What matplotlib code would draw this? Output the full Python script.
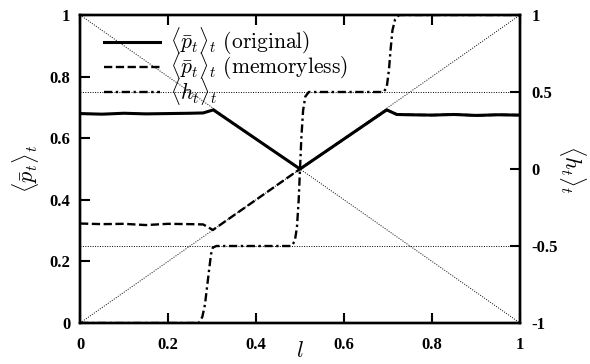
import matplotlib
matplotlib.use("Agg")
import matplotlib.pyplot as plt

plt.rcParams['font.family'] = ['Liberation Serif', 'DejaVu Serif']
plt.rcParams['mathtext.fontset'] = 'cm'

# <p>_t, original model
l_orig = [0, 0.05, 0.1, 0.15, 0.2, 0.25, 0.28, 0.303, 0.5, 0.697, 0.72, 0.75, 0.8, 0.85, 0.9, 0.95, 1.0]
p_orig = [0.680, 0.678, 0.681, 0.679, 0.680, 0.681, 0.682, 0.692, 0.5, 0.692, 0.677, 0.676, 0.675, 0.677, 0.674, 0.676, 0.675]

# <p>_t, memoryless model
l_mem = [0, 0.05, 0.1, 0.15, 0.2, 0.25, 0.28, 0.302, 0.5, 0.697, 0.72, 0.75, 0.8, 0.85, 0.9, 0.95, 1.0]
p_mem = [0.323, 0.321, 0.322, 0.318, 0.322, 0.321, 0.320, 0.302, 0.5, 0.692, 0.677, 0.676, 0.675, 0.677, 0.674, 0.676, 0.675]

# <h>_t (right axis)
l_h = [0, 0.27, 0.278, 0.284, 0.289, 0.294, 0.298, 0.302, 0.31, 0.48, 0.488, 0.493, 0.497, 0.5, 0.503, 0.507, 0.512, 0.52,
       0.69, 0.697, 0.702, 0.706, 0.71, 0.716, 0.725, 1.0]
h = [-1, -1, -0.96, -0.88, -0.76, -0.64, -0.55, -0.51, -0.5, -0.5, -0.47, -0.38, -0.2, 0.0, 0.2, 0.38, 0.47, 0.5,
     0.5, 0.53, 0.64, 0.78, 0.9, 0.97, 1.0, 1.0]

fig = plt.figure(figsize=(5.9, 3.64), dpi=100)
ax = fig.add_axes([0.1356, 0.1126, 0.7458, 0.8462])
ax2 = ax.twinx()

# reference guides
guide = dict(color='black', lw=0.7, ls=(0, (1, 1.5)))
ax.plot([0, 1], [0, 1], **guide)
ax.plot([0, 1], [1, 0], **guide)
ax2.axhline(0.5, **guide)
ax2.axhline(-0.5, **guide)

l1, = ax.plot(l_orig, p_orig, color='black', lw=2.2, label=r'$\langle\bar{p}_t\rangle_t\ \mathrm{(original)}$')
l2, = ax.plot(l_mem, p_mem, color='black', lw=1.7, dashes=(3.5, 1.5),
              label=r'$\langle\bar{p}_t\rangle_t\ \mathrm{(memoryless)}$')
l3, = ax2.plot(l_h, h, color='black', lw=1.7, dashes=(3.5, 1.5, 1, 1.5),
               label=r'$\langle h_t\rangle_t$')

ax.set_xlim(0, 1)
ax.set_ylim(0, 1)
ax2.set_ylim(-1, 1)
ax.set_xticks([0, 0.2, 0.4, 0.6, 0.8, 1])
ax.set_xticklabels(['0', '0.2', '0.4', '0.6', '0.8', '1'])
ax.set_yticks([0, 0.2, 0.4, 0.6, 0.8, 1])
ax.set_yticklabels(['0', '0.2', '0.4', '0.6', '0.8', '1'])
ax2.set_yticks([-1, -0.5, 0, 0.5, 1])
ax2.set_yticklabels(['-1', '-0.5', '0', '0.5', '1'])

ax.tick_params(direction='in', length=7, width=1.5, top=True, right=False, labelsize=12, pad=7)
ax.tick_params(axis='x', pad=10)
ax2.tick_params(direction='in', length=7, width=1.5, labelsize=12, pad=8)
for t in ax.get_xticklabels() + ax.get_yticklabels() + ax2.get_yticklabels():
    t.set_fontweight('bold')
for a in (ax, ax2):
    for s in a.spines.values():
        s.set_linewidth(1.7)

ax.set_xlabel(r'$l$', fontsize=16, labelpad=-8)
ax.set_ylabel(r'$\langle\bar{p}_t\rangle_t$', fontsize=16, labelpad=6)
ax2.set_ylabel(r'$\langle h_t\rangle_t$', fontsize=16, rotation=270, labelpad=22)

ax.legend(handles=[l1, l2, l3], loc='upper left', bbox_to_anchor=(0.02, 1.015), frameon=False,
          fontsize=15.5, handlelength=2.6, handletextpad=0.45, labelspacing=-0.3, borderpad=0.2)

fig.savefig('out.png', dpi=100)
